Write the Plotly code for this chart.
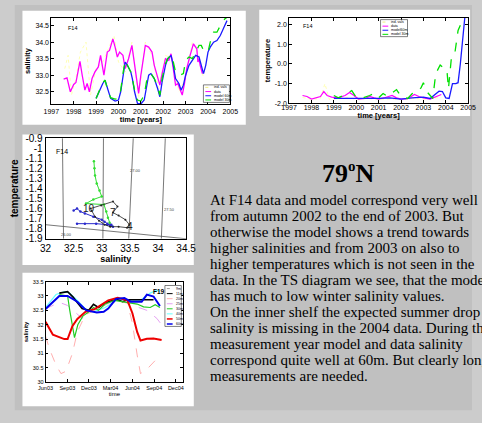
import plotly.graph_objects as go

W, H = 482, 423
def PX(x): return x / W
def PY(y): return 1 - y / H

# ---------------- Chart 1 : salinity time series F14 ----------------
c1_years = [1997, 1998, 1999, 2000, 2001, 2002, 2003, 2004, 2005]
c1_yticks = [32.5, 33.0, 33.5, 34.0, 34.5]
c1_yel_t = [1997.6, 1997.75, 1997.9, 1998.1, 1998.3, 1998.55, 1998.75, 1999.0, 1999.3, 1999.6, 1999.8, 2000.0,
            2000.3, 2000.6, 2000.9, 2001.2, 2001.5, 2001.8, 2002.1, 2002.4, 2002.7, 2003.0, 2003.3, 2003.6, 2003.8]
c1_yel_s = [33.2, 33.6, 32.4, 32.9, 33.7, 34.0, 32.4, 33.2, 33.4, 33.9, 34.2, 33.4,
            33.1, 34.0, 32.3, 34.0, 33.6, 32.6, 33.6, 33.5, 32.5, 32.9, 34.0, 33.6, 32.9]
c1_data_t = [1997.55, 1997.7, 1997.85, 1998.0, 1998.1, 1998.2, 1998.28, 1998.38, 1998.5, 1998.6, 1998.7, 1998.82,
             1998.95, 1999.1, 1999.2, 1999.35, 1999.5, 1999.6, 1999.75, 1999.85, 1999.95, 2000.05, 2000.2, 2000.3,
             2000.45, 2000.6, 2000.7, 2000.8, 2000.9, 2001.0, 2001.1, 2001.2, 2001.35, 2001.5, 2001.6, 2001.75,
             2001.85, 2001.95, 2002.1, 2002.25, 2002.35, 2002.45, 2002.55, 2002.65, 2002.75, 2002.85, 2002.95,
             2003.05, 2003.2, 2003.35, 2003.5, 2003.55, 2003.6, 2003.65, 2003.75]
c1_data_s = [32.88, 32.92, 32.5, 32.72, 32.78, 33.2, 33.42, 33.0, 32.55, 32.75, 32.5, 32.9,
             33.1, 33.25, 33.6, 33.0, 33.7, 33.75, 34.1, 33.85, 33.55, 33.7, 33.6, 33.2,
             33.5, 33.9, 33.45, 33.05, 32.45, 33.0, 33.4, 33.9, 33.85, 33.7, 33.3, 32.9,
             32.7, 33.05, 33.5, 33.45, 33.65, 33.2, 32.7, 32.75, 32.55, 32.4, 32.75,
             33.2, 33.6, 33.95, 33.8, 33.4, 33.5, 33.3, 33.05]
c1_mod_t = [1999.0, 1999.15, 1999.3, 1999.4, 1999.5, 1999.65, 1999.85, 2000.0, 2000.1, 2000.2, 2000.3, 2000.4,
            2000.55, 2000.62, 2000.72, 2000.85, 2001.0, 2001.15, 2001.25, 2001.35, 2001.45, 2001.6, 2001.75,
            2001.85, 2001.95, 2002.1, 2002.2, 2002.35, 2002.45, 2002.55, 2002.7, 2002.8, 2002.9, 2003.0,
            2003.15, 2003.3, 2003.45, 2003.6, 2003.7, 2003.8, 2003.9, 2004.0, 2004.1, 2004.25, 2004.4,
            2004.55, 2004.75, 2004.85]
c1_m60_s = [32.3, 32.55, 32.75, 32.85, 32.6, 32.3, 32.22, 32.25, 32.5, 33.0, 33.4, 33.3,
            33.1, 32.9, 32.5, 32.15, 32.13, 32.25, 32.7, 33.0, 33.05, 32.9, 32.6,
            32.35, 32.8, 33.3, 33.5, 33.6, 33.3, 32.9, 32.75, 32.55, 32.7, 33.0,
            33.3, 33.45, 33.6, 33.55, 33.3, 33.05, 33.3, 33.7, 33.85, 34.0, 34.05,
            34.2, 34.5, 34.65]
c1_m30_s = [32.3, 32.55, 32.78, 32.85, 32.6, 32.32, 32.28, 32.3, 32.55, 33.05, 33.45, 33.3,
            33.1, 32.9, 32.55, 32.25, 32.22, 32.4, 32.8, 33.0, 33.05, 32.9, 32.65,
            32.4, 32.9, 33.35, 33.5, 33.62, 33.4, 33.1, 33.0, 33.02, 33.05, 33.45,
            33.55, 33.5, 33.7, 33.9, 33.9, 33.75, 33.7, 33.7, 34.0, 34.3, 34.3,
            34.5, 34.7, 34.75]

# ---------------- Chart 2 : temperature time series F14 ----------------
c2_yticks = [-2.0, -1.0, 0.0, 1.0, 2.0]
c2_yel_t = [1997.6, 1998.0, 1998.4, 1998.6, 1998.8, 1999.2, 1999.6, 2000.0, 2000.5, 2001.0, 2001.5, 2002.0,
            2002.5, 2003.0, 2003.5, 2003.8]
c2_yel_v = [-1.7, -1.8, -1.75, -1.0, -1.8, -1.75, -1.7, -1.8, -1.75, -1.8, -1.78, -1.8, -1.75, -1.78, -1.75, -1.7]
c2_data_t = [1997.6, 1997.8, 1998.0, 1998.2, 1998.4, 1998.55, 1998.7, 1998.9, 1999.2, 1999.5, 1999.7, 1999.9,
             2000.1, 2000.4, 2000.6, 2000.8, 2001.0, 2001.3, 2001.6, 2001.8, 2002.0, 2002.3, 2002.6, 2002.8,
             2003.0, 2003.3, 2003.5, 2003.7, 2003.8]
c2_data_v = [-1.6, -1.65, -1.78, -1.7, -1.65, -1.4, -1.6, -1.68, -1.72, -1.6, -1.45, -1.6,
             -1.78, -1.75, -1.65, -1.72, -1.78, -1.7, -1.6, -1.72, -1.78, -1.76, -1.55, -1.65,
             -1.72, -1.78, -1.7, -1.6, -1.55]
c2_m60_t = [1999.0, 1999.5, 2000.0, 2000.5, 2001.0, 2001.5, 2002.0, 2002.5, 2003.0, 2003.3, 2003.5, 2003.7,
            2003.85, 2004.0, 2004.15, 2004.3, 2004.45, 2004.55, 2004.65, 2004.75, 2004.85]
c2_m60_v = [-1.75, -1.75, -1.75, -1.78, -1.75, -1.72, -1.78, -1.72, -1.68, -1.75, -1.55, -1.38,
            -1.4, -1.72, -1.75, -1.0, -1.0, -0.95, 0.0, 1.4, 2.35]
c2_m30_t = [1999.0, 1999.2, 1999.5, 1999.8, 2000.0, 2000.3, 2000.6, 2000.8, 2001.0, 2001.2, 2001.4, 2001.6,
            2001.8, 2002.0, 2002.3, 2002.5, 2002.7, 2002.9, 2003.0, 2003.15, 2003.42, 2003.55, 2003.75,
            2003.95, 2004.05, 2004.12, 2004.25, 2004.4, 2004.55, 2004.7, 2004.8]
c2_m30_v = [-1.6, -1.72, -1.55, -1.35, -1.7, -1.72, -1.6, -1.5, -1.72, -1.5, -1.65, -1.45,
            -1.3, -1.65, -1.75, -1.5, -1.45, -1.2, -0.95, -1.4, -1.75, -0.5, -0.05,
            -0.25, -0.3, -1.25, 0.3, 0.5, 1.7, 2.1, 2.35]

# ---------------- Chart 3 : TS diagram ----------------
c3_xticks = [32, 32.5, 33, 33.5, 34, 34.5]
c3_yticks = [-0.9, -1.0, -1.1, -1.2, -1.3, -1.4, -1.5, -1.6, -1.7, -1.8, -1.9]
c3_iso_s = [[32.30, 32.32], [33.03, 33.02], [33.56, 33.48], [34.13, 34.06]]
c3_iso_t = [-0.9, -1.9]
c3_iso_lbl = ["26.00", "27.00", "27.50"]
c3_iso_lbl_s = [32.38, 33.6, 34.2]
c3_iso_lbl_t = [-1.855, -1.22, -1.61]
c3_frz_s = [32.0, 34.5]
c3_frz_t = [-1.76, -1.9]
c3_m30_s = [32.86, 32.87, 32.88, 32.91, 32.96, 33.0, 32.85, 32.72, 33.04, 33.08, 33.11, 33.14, 33.17]
c3_m30_t = [-1.13, -1.2, -1.27, -1.35, -1.42, -1.48, -1.51, -1.55, -1.56, -1.63, -1.69, -1.74, -1.77]
c3_m60_s = [32.5, 32.56, 32.62, 32.7, 32.85, 33.0, 33.05, 33.1, 33.15, 33.2, 33.17, 33.1, 32.9, 32.7, 32.56]
c3_m60_t = [-1.62, -1.6, -1.63, -1.65, -1.68, -1.71, -1.73, -1.75, -1.77, -1.78, -1.76, -1.76, -1.75, -1.75, -1.75]
c3_data_s = [32.8, 32.99, 33.2, 33.28, 33.2, 33.3, 33.42, 33.49, 33.45, 33.3, 33.15, 33.05, 32.95, 32.88, 32.82]
c3_data_t = [-1.6, -1.57, -1.53, -1.58, -1.64, -1.67, -1.71, -1.76, -1.79, -1.78, -1.78, -1.76, -1.72, -1.68, -1.62]
c3_month_lbl = ["10", "7", "4"]
c3_month_s = [32.78, 33.2, 33.51]
c3_month_t = [-1.6, -1.64, -1.775]

# ---------------- Chart 4 : salinity at F19 by depth ----------------
c4_tickvals = ["2003-06-01", "2003-09-01", "2003-12-01", "2004-03-01", "2004-06-01", "2004-09-01", "2004-12-01"]
c4_ticktext = ["Jun03", "Sep03", "Dec03", "Mar04", "Jun04", "Sep04", "Dec04"]
c4_yticks = [30, 30.5, 31, 31.5, 32, 32.5, 33, 33.5]
c4_names = ["9m", "11m", "20m", "25m", "30m", "40m", "50m", "60m"]
c4_pink_t = ["2003-06-01", "2003-06-18", "2003-07-15", "2003-08-05", "2003-08-26", "2003-09-22", "2003-10-13",
             "2003-11-16", "2003-12-27", "2004-03-17", "2004-05-11", "2004-06-01", "2004-06-21", "2004-07-05",
             "2004-08-01", "2004-08-29", "2004-09-25"]
c4_pink_s = [31.6, 31.15, 30.6, 30.3, 30.38, 31.0, 31.75, 32.35, 32.5, 32.85, 32.75, 32.05, 30.95, 30.3,
             30.45, 30.7, 30.93]
c4_viol_t = ["2003-06-01", "2003-07-29", "2003-09-02", "2003-10-06", "2003-11-02", "2003-12-13", "2004-02-07",
             "2004-05-25", "2004-06-21", "2004-08-01", "2004-09-12", "2004-10-02"]
c4_viol_s = [32.55, 32.78, 32.67, 32.4, 32.22, 32.5, 32.75, 32.85, 32.62, 32.5, 32.22, 32.0]
c4_blk_t = ["2003-07-29", "2003-09-02", "2003-09-25", "2003-11-02", "2003-11-30", "2003-12-20", "2004-01-10",
            "2004-02-07", "2004-03-04", "2004-03-31", "2004-04-21", "2004-05-11", "2004-06-01", "2004-07-18",
            "2004-08-29"]
c4_blk_s = [33.1, 33.15, 32.96, 32.56, 32.5, 32.71, 32.6, 32.76, 32.83, 32.87, 32.8, 32.87, 32.87, 32.87, 32.87]
c4_grn_t = ["2003-07-29", "2003-09-02", "2003-09-11", "2003-10-01", "2003-10-15", "2003-11-05", "2003-12-01",
            "2003-12-20", "2004-01-10", "2004-02-07", "2004-03-17", "2004-04-28", "2004-05-25", "2004-06-21",
            "2004-07-18", "2004-08-15", "2004-09-05", "2004-09-25"]
c4_grn_s = [33.05, 33.0, 32.5, 31.55, 32.0, 32.3, 32.45, 32.6, 32.5, 32.72, 32.85, 32.8, 32.75, 32.72,
            32.62, 32.6, 32.7, 32.6]
c4_cyan_t = ["2003-06-01", "2003-07-15", "2003-08-20", "2003-09-10", "2003-10-13", "2003-11-16", "2003-12-20",
             "2004-02-07", "2004-03-31", "2004-05-25", "2004-07-05", "2004-08-15", "2004-09-12", "2004-09-25"]
c4_cyan_s = [32.6, 33.05, 33.15, 33.1, 32.85, 32.55, 32.45, 32.6, 32.88, 32.85, 32.85, 33.1, 33.2, 33.15]
c4_red_t = ["2003-06-01", "2003-07-02", "2003-08-19", "2003-09-02", "2003-09-22", "2003-10-13", "2003-11-16",
            "2003-12-27", "2004-02-20", "2004-03-31", "2004-05-11", "2004-06-01", "2004-06-21", "2004-07-05",
            "2004-08-01", "2004-08-29", "2004-10-02"]
c4_red_s = [32.1, 31.65, 31.5, 31.5, 31.95, 32.2, 32.45, 32.55, 32.85, 32.94, 32.85, 32.4, 31.75, 31.45,
            31.51, 31.52, 31.47]
c4_blue_t = ["2003-06-01", "2003-07-01", "2003-07-29", "2003-09-02", "2003-10-13", "2003-11-20", "2004-01-03",
             "2004-02-01", "2004-02-20", "2004-03-24", "2004-04-28", "2004-05-25", "2004-07-10", "2004-08-01",
             "2004-08-29", "2004-09-25"]
c4_blue_s = [32.55, 32.8, 33.0, 33.0, 32.8, 32.5, 32.43, 32.45, 32.56, 32.9, 32.93, 32.8, 32.8, 33.05,
             32.98, 32.65]

# ---------------- text ----------------
title_text = '79<sup><span style="font-size:15px">o</span></sup>N'
body_lines = [
    "At F14 data and model correspond very well",
    "from autumn 2002 to the end of 2003. But",
    "otherwise the model shows a trend towards",
    "higher salinities and from 2003 on also to",
    "higher temperatures which is not seen in the",
    "data. In the TS diagram we see, that the model",
    "has much to low winter salinity values.",
    "On the inner shelf the expected summer drop in",
    "salinity is missing in the 2004 data. During the",
    "measurement year model and data salinity",
    "correspond quite well at 60m. But clearly longer",
    "measurements are needed.",
]

SANS = "Liberation Sans, Arial, sans-serif"
SERIF = "Liberation Serif, Times New Roman, serif"

MAG = "#ff00ff"
BLU = "#1a1aff"
GRN = "#00e000"
YEL = "#ffffa0"

fig = go.Figure()

def add(x, y, ax, color, width=1.2, dash="solid", mode="lines", msize=3):
    fig.add_trace(go.Scatter(x=x, y=y, mode=mode, xaxis="x" + ax, yaxis="y" + ax,
                             line=dict(color=color, width=width, dash=dash),
                             marker=dict(size=msize, color=color),
                             showlegend=False, hoverinfo="skip"))

# chart 1
add(c1_yel_t, c1_yel_s, "", YEL, 0.8, "dot")
add(c1_data_t, c1_data_s, "", MAG, 1.3)
add(c1_mod_t, c1_m60_s, "", BLU, 1.3)
add(c1_mod_t, c1_m30_s, "", GRN, 1.3, "dash")
# chart 2
add(c2_yel_t, c2_yel_v, "2", YEL, 0.8, "dot")
add(c2_data_t, c2_data_v, "2", MAG, 1.2)
add(c2_m60_t, c2_m60_v, "2", BLU, 1.3)
add(c2_m30_t, c2_m30_v, "2", GRN, 1.3, "dash")
# chart 3
for s in c3_iso_s:
    add(s, c3_iso_t, "3", "#555555", 0.8)
add(c3_frz_s, c3_frz_t, "3", "#555555", 0.8)
add(c3_m30_s, c3_m30_t, "3", "#33dd33", 1.0, mode="lines+markers", msize=2.5)
add(c3_m60_s, c3_m60_t, "3", "#2a2acc", 1.0, mode="lines+markers", msize=2.5)
add(c3_data_s, c3_data_t, "3", "#222222", 0.8, mode="lines+markers", msize=2)
# chart 4
c4_series = [
    (c4_pink_t, c4_pink_s, "#ff9999", 0.8, "dash"),
    (c4_viol_t, c4_viol_s, "#dd88ee", 0.8, "dash"),
    (c4_cyan_t, c4_cyan_s, "#66ffff", 1.2, "solid"),
    (c4_blk_t, c4_blk_s, "#000000", 1.6, "solid"),
    (c4_grn_t, c4_grn_s, "#22cc22", 1.2, "solid"),
    (c4_red_t, c4_red_s, "#ee0000", 2.0, "solid"),
    (c4_blue_t, c4_blue_s, "#0000ee", 2.0, "solid"),
]
for t, s, c, w, d in c4_series:
    add(t, s, "4", c, w, d)

def axis(dom, anchor, rng, tickvals, ticktext, size, title, tsize, standoff, **kw):
    d = dict(domain=dom, anchor=anchor, range=rng, tickvals=tickvals, ticktext=ticktext,
             ticks="inside", ticklen=3, tickcolor="black", showline=True, linecolor="black",
             linewidth=0.8, mirror="ticks", showgrid=False, zeroline=False,
             tickfont=dict(family=SANS, size=size, color="black"),
             title=dict(text=title, standoff=standoff, font=dict(family=SANS, size=tsize, color="black")))
    d.update(kw)
    return d

c1x = [PX(45), PX(231)]
c1y = [PY(102), PY(13)]
c2x = [PX(292), PX(478)]
c2y = [PY(101), PY(13)]
c3x = [PX(39), PX(185)]
c3y = [PY(240), PY(136.7)]
c4x = [PX(39), PX(182)]
c4y = [PY(387.3), PY(284)]

layout = dict(
    width=W, height=H, margin=dict(l=0, r=0, t=0, b=0),
    paper_bgcolor="#cccccc", plot_bgcolor="white", showlegend=False,
    xaxis=axis(c1x, "y", [1997, 2005], c1_years, [str(v) for v in c1_years], 7,
               "<b>time [years]</b>", 7.5, 1),
    yaxis=axis(c1y, "x", [32.12, 34.74], c1_yticks, ["%.1f" % v for v in c1_yticks], 7,
               "<b>salinity</b>", 7.5, 3),
    xaxis2=axis(c2x, "y2", [1997, 2005], c1_years, [str(v) for v in c1_years], 7,
                "<b>time [years]</b>", 7.5, 0, ticklabelstandoff=-3),
    yaxis2=axis(c2y, "x2", [-2.0, 2.35], c2_yticks, ["%.1f" % v for v in c2_yticks], 7,
                "<b>temperature</b>", 7.5, 3),
    xaxis3=axis(c3x, "y3", [32, 34.5], c3_xticks, [("%g" % v) for v in c3_xticks], 10,
                "<b>salinity</b>", 9, 1, mirror=True, ticks=""),
    yaxis3=axis(c3y, "x3", [-1.9, -0.9], c3_yticks, [("%g" % v) for v in c3_yticks], 10,
                "<b>temperature</b>", 10, 4, mirror=True, ticks=""),
    xaxis4=axis(c4x, "y4", ["2003-06-01", "2005-01-01"], c4_tickvals, c4_ticktext, 5.5,
                "time", 6, 1, type="date"),
    yaxis4=axis(c4y, "x4", [30, 33.5], c4_yticks, [("%g" % v) for v in c4_yticks], 5.5,
                "<b>salinity</b>", 6, 3),
)

shapes = []
def rect(x0, y0, x1, y1, fill, line=None, layer="below", lw=0.5):
    shapes.append(dict(type="rect", xref="paper", yref="paper", x0=PX(x0), x1=PX(x1),
                       y0=PY(y1), y1=PY(y0), fillcolor=fill, layer=layer,
                       line=dict(color=line or fill, width=lw if line else 0)))

rect(7, 0, 482, 416, "#c0c0c0")
rect(15, 6, 247, 123, "white")
rect(261, 5, 480, 114, "white")
rect(15, 133, 193, 267, "white")
rect(15, 275, 193, 412, "white")

annotations = []
def txt(x, y, s, size, family=SANS, color="black", xanchor="center", **kw):
    annotations.append(dict(x=PX(x), y=PY(y), xref="paper", yref="paper", text=s, showarrow=False,
                            xanchor=xanchor, yanchor="middle",
                            font=dict(family=family, size=size, color=color), **kw))

def legend(x0, y0, x1, y1, entries, step, size):
    rect(x0, y0, x1, y1, "white", "black", layer="above", lw=0.5)
    for i, (name, color, dash, w) in enumerate(entries):
        yy = y0 + step * (i + 0.6)
        shapes.append(dict(type="line", xref="paper", yref="paper", x0=PX(x0 + 2), x1=PX(x0 + 8),
                           y0=PY(yy), y1=PY(yy), layer="above", line=dict(color=color, width=w, dash=dash)))
        txt(x0 + 9, yy, name, size, xanchor="left")

legend(203, 82, 230, 100, [("ind. vals", "#e8e860", "dot", 0.8), ("data", MAG, "solid", 1),
                           ("model 60m", BLU, "solid", 1), ("model 30m", GRN, "dash", 1)], 4.3, 3.5)
legend(387, 15, 415, 32.5, [("ind. vals", "#e8e860", "dot", 0.8), ("data", MAG, "solid", 1),
                            ("model60m", BLU, "solid", 1), ("model 30m", GRN, "dash", 1)], 4.2, 3.5)
c4_leg = [("#888888", "dot", 0.8), ("#000000", "solid", 1), ("#ff9999", "dash", 0.8), ("#dd88ee", "dash", 0.8),
          ("#22cc22", "solid", 1), ("#66ffff", "solid", 1), ("#ee0000", "solid", 1.5), ("#0000ee", "solid", 1.5)]
legend(163, 288, 180, 330, [(n, c, d, w) for n, (c, d, w) in zip(c4_names, c4_leg)], 5.2, 3.5)

# station labels inside charts (data coords)
annotations.append(dict(x=1997.95, y=34.44, xref="x", yref="y", text="F14", showarrow=False,
                        font=dict(family=SANS, size=5.5, color="black")))
annotations.append(dict(x=1997.8, y=1.95, xref="x2", yref="y2", text="F14", showarrow=False,
                        font=dict(family=SANS, size=5.5, color="black")))
annotations.append(dict(x=32.3, y=-1.03, xref="x3", yref="y3", text="F14", showarrow=False,
                        font=dict(family=SANS, size=7, color="black")))
annotations.append(dict(x="2004-09-22", y=33.17, xref="x4", yref="y4", text="<b>F19</b>", showarrow=False,
                        font=dict(family=SANS, size=6.5, color="black")))
for s, t, l in zip(c3_iso_lbl_s, c3_iso_lbl_t, c3_iso_lbl):
    annotations.append(dict(x=s, y=t, xref="x3", yref="y3", text=l, showarrow=False,
                            font=dict(family=SANS, size=4, color="#444444")))
for s, t, l in zip(c3_month_s, c3_month_t, c3_month_lbl):
    annotations.append(dict(x=s, y=t, xref="x3", yref="y3", text=l, showarrow=False,
                            font=dict(family=SANS, size=10, color="#222222")))

# poster text
txt(354, 172, "<b>" + title_text + "</b>", 26, family=SERIF)
for i, line in enumerate(body_lines):
    txt(208, 200 + 16.45 * i, line, 15, family=SERIF, xanchor="left")

layout["shapes"] = shapes
layout["annotations"] = annotations
fig.update_layout(**layout)
fig.write_html("out.html", config={"displayModeBar": False})
